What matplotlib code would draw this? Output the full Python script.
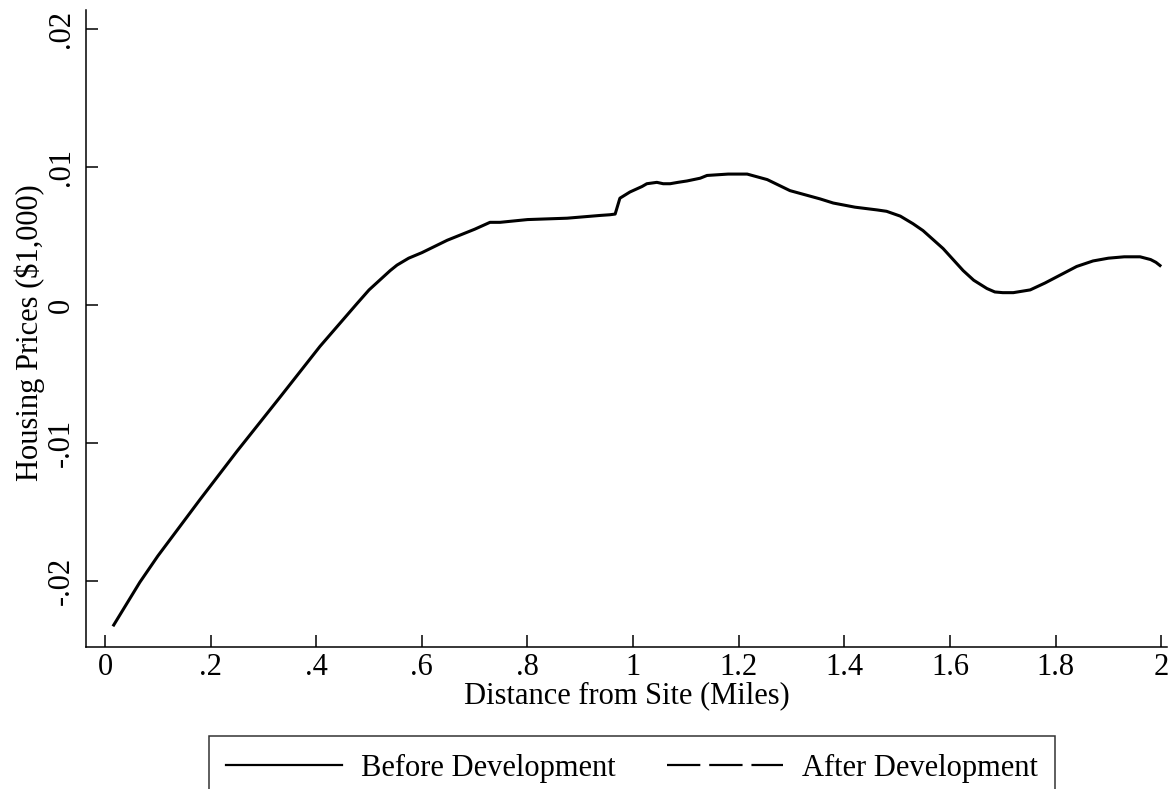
import numpy as np
import matplotlib.pyplot as plt
from matplotlib.lines import Line2D

# Kernel-smoothed price gradient by distance
distance = [0.015, 0.066, 0.10, 0.18, 0.25, 0.331, 0.407, 0.477, 0.50, 0.52,
            0.54, 0.553, 0.575, 0.60, 0.648, 0.70, 0.729, 0.748, 0.80, 0.875,
            0.9375, 0.956, 0.966, 0.975, 0.994, 1.017, 1.026, 1.045, 1.057, 1.07,
            1.085, 1.102, 1.127, 1.14, 1.18, 1.216, 1.254, 1.297, 1.354, 1.379,
            1.42, 1.462, 1.48, 1.506, 1.53, 1.549, 1.587, 1.625, 1.645, 1.67,
            1.685, 1.70, 1.72, 1.752, 1.78, 1.815, 1.84, 1.871, 1.90, 1.93,
            1.96, 1.98, 1.99, 2.0]
before_dev = [-0.0233, -0.0201, -0.0182, -0.0141, -0.0106, -0.0067, -0.0030, 0.0001,
              0.0011, 0.0018, 0.0025, 0.0029, 0.0034, 0.0038, 0.0047, 0.0055,
              0.0060, 0.0060, 0.0062, 0.0063, 0.0065, 0.00655, 0.0066, 0.00775,
              0.0082, 0.0086, 0.0088, 0.0089, 0.0088, 0.0088, 0.0089, 0.0090,
              0.0092, 0.0094, 0.0095, 0.0095, 0.0091, 0.0083, 0.0077, 0.0074,
              0.0071, 0.0069, 0.0068, 0.00645, 0.0059, 0.0054, 0.0041, 0.0025,
              0.0018, 0.0012, 0.00095, 0.0009, 0.0009, 0.0011, 0.0016, 0.0023,
              0.0028, 0.0032, 0.0034, 0.0035, 0.0035, 0.0033, 0.0031, 0.0028]

x_ticks = [0, 0.2, 0.4, 0.6, 0.8, 1.0, 1.2, 1.4, 1.6, 1.8, 2.0]
x_ticklabels = ["0", ".2", ".4", ".6", ".8", "1", "1.2", "1.4", "1.6", "1.8", "2"]
y_ticks = [-0.02, -0.01, 0, 0.01, 0.02]
y_ticklabels = ["-.02", "-.01", "0", ".01", ".02"]

plt.rcParams["font.family"] = ["Liberation Serif", "DejaVu Serif"]
plt.rcParams["font.size"] = 22

fig = plt.figure(figsize=(11.68, 7.89), dpi=100)
ax = fig.add_axes([86 / 1168, 1 - 647 / 789, (1167 - 86) / 1168, 637 / 789])

ax.plot(distance, before_dev, color="black", lw=2.2,
        solid_joinstyle="round", solid_capstyle="butt")

ax.set_xlim(-0.036, 2.011)
ax.set_ylim(-0.0248, 0.0214)
ax.set_xticks(x_ticks)
ax.set_xticklabels(x_ticklabels)
ax.set_yticks(y_ticks)
ax.set_yticklabels(y_ticklabels, rotation=90, va="center")

for side in ("top", "right"):
    ax.spines[side].set_visible(False)
for side in ("left", "bottom"):
    ax.spines[side].set_linewidth(1.1)
ax.tick_params(axis="both", direction="in", length=8.6, width=1.1)
ax.tick_params(axis="x", pad=4)
ax.tick_params(axis="y", pad=7)

ax.set_xlabel("Distance from Site (Miles)", labelpad=0)
fig.text(30 / 1168, 1 - 333 / 789, "Housing Prices ($1,000)", rotation=90,
         ha="center", va="center")

handles = [
    Line2D([], [], color="black", lw=1.6),
    Line2D([], [], color="black", lw=1.6, linestyle=(0, (15, 4))),
]
leg = fig.legend(handles, ["Before Development", "After Development"],
                 loc="upper center", bbox_to_anchor=(632 / 1168, 1 - 736 / 789),
                 ncol=2, frameon=True, fancybox=False, edgecolor="black",
                 handlelength=3.8, handletextpad=0.6, columnspacing=1.7,
                 borderpad=0.58, borderaxespad=0)
leg.get_frame().set_linewidth(1.1)

fig.savefig("out.png", dpi=100)
